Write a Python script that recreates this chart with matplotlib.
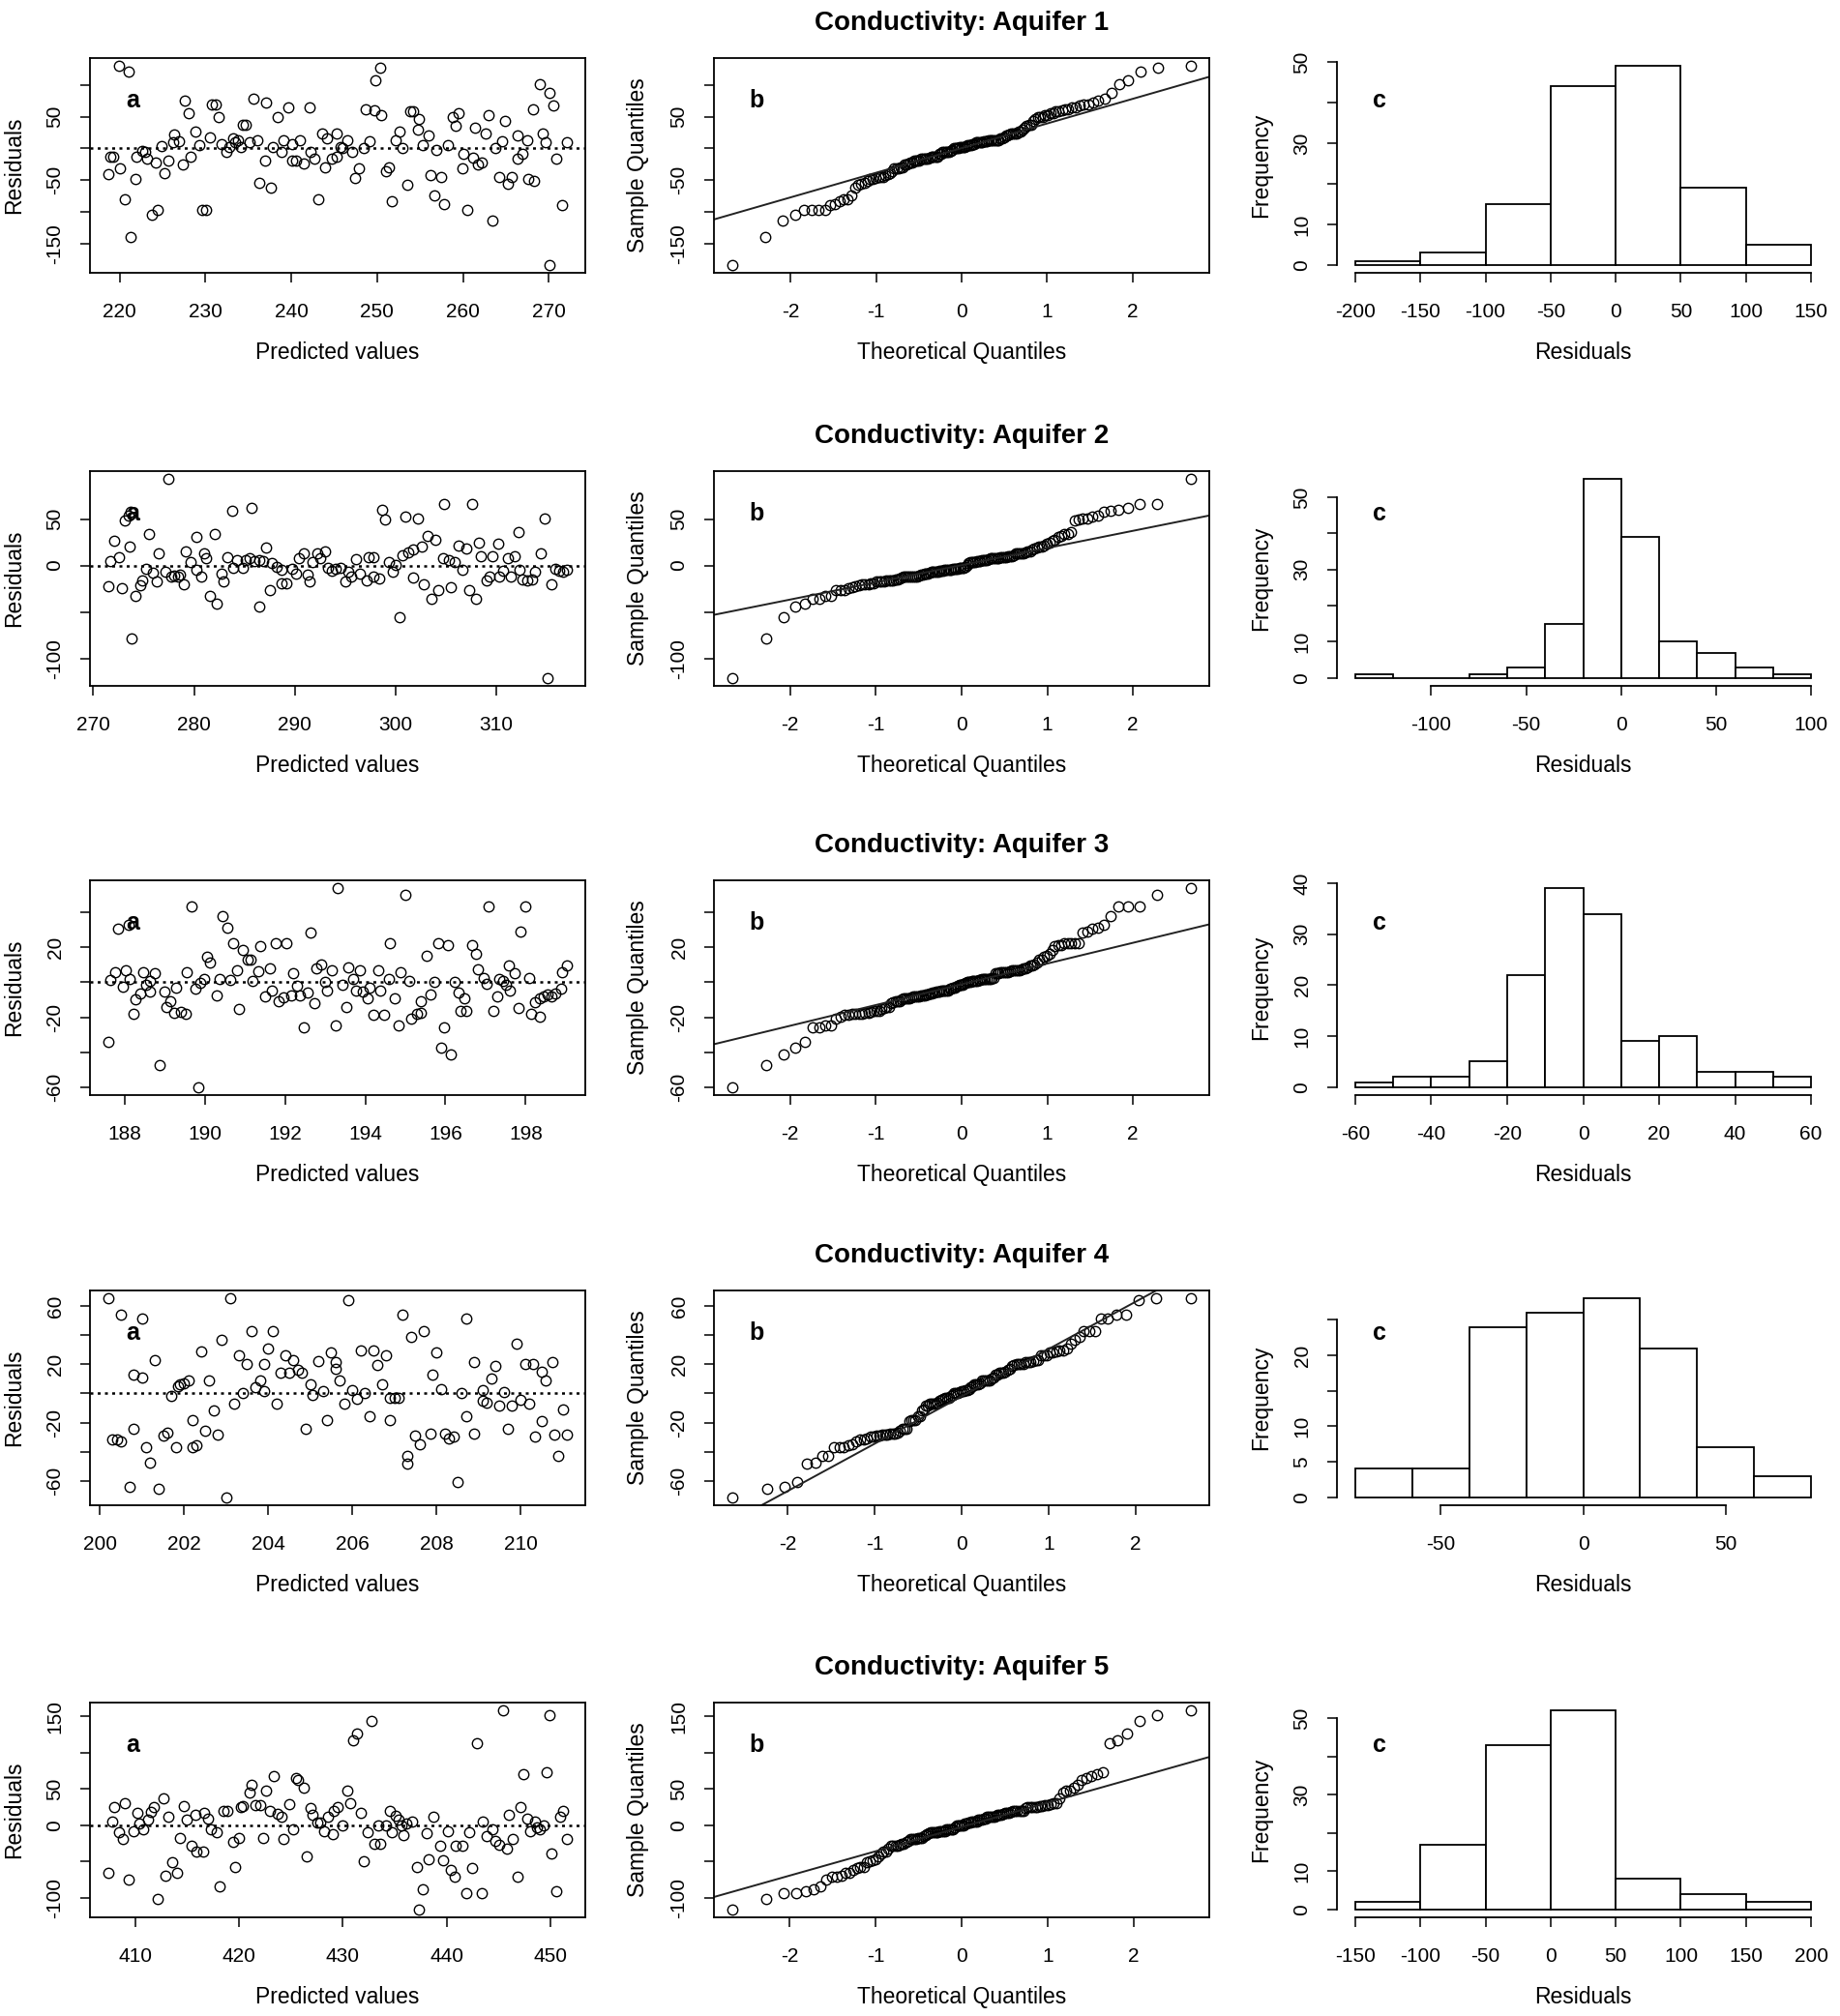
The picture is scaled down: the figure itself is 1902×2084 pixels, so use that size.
import statistics

import matplotlib
matplotlib.use("Agg")
import matplotlib.pyplot as plt
import numpy as np

plt.rcParams["font.family"] = ["Liberation Sans", "DejaVu Sans"]

# ---- Aquifer 1: (predicted, residual) ----
aq1_points = [
    (219.9, 129.6), (221.1, 120.6), (218.7, -40), (218.9, -12.6), (219.3, -12.6), (220.1, -31.7),
    (220.6, -80.4), (221.3, -138.7), (221.9, -47.7), (222.0, -12.6), (222.6, -3.5), (223.0, -5.5),
    (223.2, -16.6), (223.8, -104), (224.5, -96.5), (224.2, -21.6), (224.9, 3.5), (225.2, -38.7),
    (225.7, -18.6), (226.3, 10), (226.4, 21.6), (226.9, 11), (227.4, -25.6), (227.6, 75.4),
    (228.1, 55.3), (228.3, -12.6), (228.8, 26.6), (229.3, 5), (229.6, -96.5), (230.1, -96.5),
    (230.5, 17.6), (230.8, 68.8), (231.2, 68.8), (231.5, 48.7), (231.9, 7.5), (232.5, -6),
    (232.8, 2.5), (233.2, 16.6), (233.5, 10), (233.8, 13.6), (234.1, 1.5), (234.4, 36.7),
    (234.7, 36.7), (235.2, 10), (235.6, 77.9), (236.0, 13.6), (236.3, -54.3), (236.9, -19.1),
    (237.1, 71.4), (237.6, -61.3), (237.8, 1.5), (238.4, 48.7), (238.9, -6), (239.1, 13.6),
    (239.6, 65.3), (240.1, 7.5), (240.1, -19.1), (240.6, -19.1), (241.0, 13.6), (241.5, -24.1),
    (242.1, 65.3), (242.3, -6), (242.7, -16.6), (243.2, -80.4), (243.6, 23.6), (243.9, -29.1),
    (244.2, 16.6), (244.7, -16.6), (245.3, 23.6), (245.3, -13.6), (245.7, 2.5), (246.0, 0),
    (246.5, 13.6), (247.1, -6), (247.4, -46.2), (247.9, -31.7), (248.4, 0), (248.7, 61.8),
    (249.1, 11), (249.7, 59.3), (249.8, 107), (250.3, 126.6), (250.5, 51.8), (251.0, -35.2),
    (251.4, -30.2), (251.7, -83.4), (252.2, 13.6), (252.6, 26.6), (253.0, 0), (253.5, -57.8),
    (253.8, 58.8), (254.2, 58.8), (254.9, 46.2), (254.8, 29.1), (255.3, 5), (256.0, 21.1),
    (256.2, -41.7), (256.7, -73.9), (256.9, -2.5), (257.4, -44.7), (257.8, -86.9), (258.2, 5),
    (258.8, 48.7), (259.1, 36.2), (259.5, 55.3), (260.0, -8.5), (259.9, -31.7), (260.5, -96.5),
    (261.2, -15.1), (261.4, 32.7), (261.7, -25.1), (262.2, -22.6), (262.6, 23.6), (263.0, 51.8),
    (263.4, -113), (263.8, 0), (264.2, -45.2), (264.5, 11), (264.9, 42.7), (265.2, -55.3),
    (265.7, -45.2), (266.3, 20.1), (266.4, -16.6), (266.9, -8.5), (267.5, 13.6), (267.6, -47.7),
    (268.3, -51.3), (268.1, 61.8), (268.9, 100.5), (269.3, 23.6), (269.6, 10), (270.1, 86.9),
    (270.5, 67.8), (270.9, -16.6), (271.5, -89.4), (270.1, -183), (272.1, 10),
]
aq1_breaks = [-200, -150, -100, -50, 0, 50, 100, 150]
aq1_counts = [1, 3, 15, 44, 49, 19, 5]

# ---- Aquifer 2 ----
aq2_points = [
    (271.5, -22.8), (271.7, 4.9), (272.1, 26.6), (272.6, 9.3), (272.8, -24.5), (273.1, 48),
    (273.5, 54), (273.7, 58), (273.6, 20.3), (273.8, -79), (274.2, -33.1), (274.7, -21.7),
    (274.9, -15.9), (275.2, -3.4), (275.5, 33.4), (275.9, -7.9), (276.3, -17.6), (276.5, 13.4),
    (277.2, -6.9), (277.5, 93), (277.7, -11.4), (278.0, -10.7), (278.4, -12.4), (278.6, -10.3),
    (279.0, -20.7), (279.2, 15.5), (279.7, 3.4), (280.2, -4.5), (280.2, 31), (280.7, -11.4),
    (281.0, 12.8), (281.2, 7.6), (281.6, -32.8), (282.1, 33.4), (282.3, -40.7), (282.7, -8.6),
    (282.9, -17.6), (283.3, 9.3), (283.8, 59.3), (283.9, -2.8), (284.3, 5.9), (284.8, -2.8),
    (285.1, 5.9), (285.5, 7.6), (285.7, 62), (286.0, 4.8), (286.5, 5.9), (286.9, 4.8),
    (286.5, -44.1), (287.1, 19.7), (287.5, -26.9), (287.7, 3.1), (288.2, -1), (288.7, -4.5),
    (288.7, -19.3), (289.2, -19.3), (289.7, -3.4), (290.1, -8.6), (290.4, 8.3), (290.9, 12.8),
    (291.3, -10.3), (291.5, -17.6), (291.8, 4.1), (292.2, 12.8), (292.5, 7.6), (293.0, 15.5),
    (293.3, -2.8), (293.7, -5.2), (294.1, -3.4), (294.5, -2.1), (295.0, -17.6), (295.3, -6.2),
    (295.6, -11.4), (296.1, 6.9), (296.5, -8.6), (297.1, -15.9), (297.3, 9.3), (297.8, 9.3),
    (297.8, -11.4), (298.4, -13.8), (298.7, 60), (299.0, 49), (299.3, 4.1), (299.7, -6.2),
    (300.0, 0.7), (300.4, -55.5), (300.7, 11), (301.0, 53), (301.3, 14.5), (301.7, -13.1),
    (301.7, 16.9), (302.2, 50.7), (302.6, 20.3), (302.8, -20), (303.2, 31.7), (303.6, -35.5),
    (303.9, 27.2), (304.2, -26.9), (304.7, 7.6), (304.8, 66), (305.3, 5.9), (305.5, -23.4),
    (305.9, 4.1), (306.2, 21.4), (306.6, -4.5), (307.0, 18), (307.3, -26.2), (307.6, 66),
    (308.0, -35.5), (308.3, 25), (308.5, 10.3), (309.0, -16.6), (309.3, -11.4), (309.6, 10.3),
    (310.2, 23.1), (310.3, -11.4), (310.7, -5.5), (311.1, 8.3), (311.4, -11.4), (311.8, 10.3),
    (312.2, 35.9), (312.3, -4.5), (312.6, -14.9), (313.1, -15.9), (313.5, -14.9), (313.8, -6.9),
    (314.4, 12.8), (314.8, 50.7), (315.1, -121), (315.5, -20), (315.8, -3.4), (316.2, -5.5),
    (316.6, -6.2), (317.0, -4.8),
]
aq2_breaks = [-140, -120, -100, -80, -60, -40, -20, 0, 20, 40, 60, 80, 100]
aq2_counts = [1, 0, 0, 1, 3, 15, 55, 39, 10, 7, 3, 1]

# ---- Aquifer 3 ----
aq3_points = [
    (187.59, -34.3), (187.65, 1.5), (187.75, 5.8), (187.83, 30.7), (187.95, -2.7), (188.02, 6.9),
    (188.12, 2.2), (188.10, 32.8), (188.21, -17.9), (188.26, -9.5), (188.38, -6.4), (188.45, 5.8),
    (188.53, -1.5), (188.63, -5.5), (188.74, 5.5), (188.64, 0.9), (188.88, -47.4), (188.98, -5.5),
    (189.03, -14.1), (189.14, -10.6), (189.24, -17.7), (189.41, -16.8), (189.51, -18.2), (189.29, -3.3),
    (189.54, 5.8), (189.67, 43.4), (189.77, -3.6), (189.83, -59.9), (189.89, -0.4), (189.99, 1.8),
    (190.05, 14.6), (190.13, 11.3), (190.30, -7.3), (190.36, 2.2), (190.45, 38), (190.55, 31.4),
    (190.62, 1.5), (190.71, 22.3), (190.81, 6.9), (190.86, -15.1), (190.95, 18.6), (191.07, 12.8),
    (191.14, 12.8), (191.19, 0.9), (191.34, 6.4), (191.38, 21), (191.50, -8.2), (191.61, 8.2),
    (191.67, -4.6), (191.77, 22.3), (191.85, -10.6), (191.96, -8.8), (192.03, 22.3), (192.15, -7.3),
    (192.20, 5.5), (192.30, -1.8), (192.38, -7.3), (192.46, -25.9), (192.57, -5.8), (192.63, 28.3),
    (192.73, -11.9), (192.78, 8.2), (192.89, 10), (192.99, 0), (193.05, -4.6), (193.16, 6.9),
    (193.26, -24.6), (193.31, 53.8), (193.42, -1.5), (193.53, -14.1), (193.57, 8.8), (193.69, 1.8),
    (193.76, -4.6), (193.86, 6.9), (193.93, -5.1), (194.05, -9.1), (194.11, -3.3), (194.20, -18.6),
    (194.48, -18.6), (194.32, 6.9), (194.37, -4.6), (194.61, 22.3), (194.58, 1.8), (194.73, -9.1),
    (194.83, -24.6), (194.88, 5.8), (195.01, 50.2), (195.09, 0.9), (195.15, -21), (195.28, -17.9),
    (195.38, -17.3), (195.39, -10.9), (195.52, 15.1), (195.63, -6.9), (195.73, 0.4), (195.81, 22.3),
    (195.90, -37.4), (195.97, -25.9), (196.07, 21.5), (196.14, -41.1), (196.24, 0.4), (196.32, -5.8),
    (196.48, -9.1), (196.38, -16.4), (196.53, -16.4), (196.67, 21.5), (196.77, 16.4), (196.82, 7.3),
    (196.96, 2.7), (197.03, -0.9), (197.08, 43.4), (197.20, -16.4), (197.30, -8.2), (197.35, 1.8),
    (197.44, 0.9), (197.51, -1.5), (197.61, -4.6), (197.59, 9.5), (197.73, 5.5), (197.83, -14.6),
    (197.86, 29.2), (197.99, 43.4), (198.10, 2.7), (198.14, -18.2), (198.24, -11.3), (198.36, -9.1),
    (198.45, -7.8), (198.55, -6.9), (198.64, -7.8), (198.74, -6.4), (198.88, -3.6), (198.36, -19.7),
    (198.91, 5.8), (199.03, 9.5),
]
aq3_breaks = [-60, -50, -40, -30, -20, -10, 0, 10, 20, 30, 40, 50, 60]
aq3_counts = [1, 2, 2, 5, 22, 39, 34, 9, 10, 3, 3, 2]

# ---- Aquifer 4 ----
aq4_points = [
    (200.2, 65.5), (200.3, -31.8), (200.4, -31.8), (200.5, 54.3), (200.5, -33), (200.7, -64.6),
    (200.8, -24), (200.8, 12.7), (201.0, 51.7), (201.0, 11.1), (201.1, -37), (201.2, -47.4),
    (201.3, 22.7), (201.4, -65.7), (201.5, -29), (201.6, -26.7), (201.7, -1.8), (201.8, -37),
    (201.85, 4.9), (201.9, 6), (202.0, 7.1), (202.1, 8.9), (202.2, -37), (202.3, -35.6),
    (202.2, -18.5), (202.4, 28.7), (202.5, -25.8), (202.6, 8.9), (202.7, -11.4), (202.8, -28.5),
    (202.9, 37.2), (203.0, -71.5), (203.1, 65.5), (203.2, -7.3), (203.3, 26.1), (203.4, 0),
    (203.5, 20), (203.6, 42.8), (203.7, 4.5), (203.8, 8.9), (203.9, 1.6), (203.9, 20),
    (204.0, 31.2), (204.1, 42.8), (204.2, -7.3), (204.3, 14.3), (204.4, 26.1), (204.5, 14.3),
    (204.6, 23.2), (204.7, 16), (204.8, 14.3), (204.9, -24), (205.0, 6), (205.05, -0.7),
    (205.2, 22.3), (205.3, 1.6), (205.4, -18.5), (205.5, 28.3), (205.6, 21.6), (205.6, 17.1),
    (205.7, 8.9), (205.8, -7.3), (205.9, 64.6), (206.0, 2.2), (206.1, -3.6), (206.2, 29.8),
    (206.3, 0), (206.4, -15.6), (206.5, 29.8), (206.6, 19.4), (206.7, 6), (206.8, 26.1),
    (206.9, -18.5), (206.9, -2.9), (207.0, -2.9), (207.1, -2.9), (207.2, 54.3), (207.3, -43),
    (207.3, -48.6), (207.4, 38.8), (207.5, -29), (207.6, -34.7), (207.7, 42.8), (207.85, -27.4),
    (207.9, 12.7), (208.0, 28.3), (208.1, 3.1), (208.2, -27.4), (208.3, -30.7), (208.4, -29.6),
    (208.5, -61), (208.6, 0), (208.7, 51.7), (208.7, -15.6), (208.9, -27.4), (208.9, 21.6),
    (209.1, 2.2), (209.1, -5.1), (209.2, -6.2), (209.3, 10.5), (209.4, 18.7), (209.5, -8.5),
    (209.6, 0.9), (209.7, -24), (209.8, -8.5), (209.9, 34.3), (210.0, -4), (210.1, 20),
    (210.2, -7.3), (210.3, 20), (210.35, -29.6), (210.5, -19.2), (210.5, 14.9), (210.6, 8.7),
    (210.75, 21.6), (210.8, -28.5), (210.9, -43), (211.0, -11.1), (211.1, -28.5),
]
aq4_breaks = [-80, -60, -40, -20, 0, 20, 40, 60, 80]
aq4_counts = [4, 4, 24, 26, 28, 21, 7, 3]

# ---- Aquifer 5 ----
aq5_points = [
    (407.4, -65.8), (407.8, 5.7), (408.0, 25.4), (408.4, -9.6), (408.8, -18.4), (409.0, 30.7),
    (409.4, -74.6), (409.8, -8.8), (410.2, 16.7), (410.4, 2.6), (410.8, -6.1), (411.2, 7.9),
    (411.5, 18.9), (411.8, 24.6), (412.2, -101.8), (412.7, 36.4), (412.9, -68.9), (413.2, 11.4),
    (413.6, -51.3), (414.0, -65.8), (414.3, -17.5), (414.7, 26.3), (415.0, 7.9), (415.4, -28.1),
    (415.8, 14.5), (415.9, -36), (416.5, -36.8), (416.6, 16.7), (417.0, 8.8), (417.3, -6.1),
    (417.8, -9.6), (418.1, -84.2), (418.5, 20.2), (418.9, 20.2), (419.4, -22.8), (419.6, -57.9),
    (420.0, -17.5), (420.2, 24.6), (420.4, 26.3), (421.0, 45.2), (421.2, 55.3), (421.6, 27.6),
    (422.0, 27.6), (422.3, -17.5), (422.6, 47.4), (423.0, 20.2), (423.3, 67.1), (423.7, 15.4),
    (424.1, 12.3), (424.3, -19.3), (424.8, 28.9), (425.2, -6.1), (425.5, 64.9), (425.7, 62.7),
    (426.2, 51.8), (426.5, -42.5), (426.9, 23.2), (427.1, 14.5), (427.5, 4.4), (427.8, 4.4),
    (428.2, -8.3), (428.6, 12.3), (429.0, -11.8), (429.1, 20.2), (429.5, 24.6), (430.0, 0),
    (430.4, 47.4), (430.7, 30.7), (431.0, 116.7), (431.4, 126.3), (431.7, 16.7), (432.0, -49.1),
    (432.4, -9.6), (432.8, 143.9), (433.0, -25), (433.6, -25), (433.4, 0), (434.2, 0),
    (434.5, 20.2), (434.7, -9.6), (435.1, 13.2), (435.4, 7.9), (435.7, 0), (436.1, 2.6),
    (435.8, -14), (436.7, 5.7), (437.1, -57), (437.3, -115.8), (437.7, -87.7), (438.1, -10.5),
    (438.3, -46.9), (438.7, 12.3), (439.4, -28.5), (439.7, -48.2), (440.1, -8.8), (440.4, -61.4),
    (440.8, -70.2), (440.9, -28.5), (441.5, -28.5), (441.9, -93), (442.2, -9.6), (442.5, -58.8),
    (442.9, 112.3), (443.4, -93), (443.5, 5.7), (443.9, -14.9), (444.4, -6.1), (444.7, -21.9),
    (445.1, -26.3), (445.4, 157.9), (445.8, -31.6), (446.0, 14.5), (446.4, -19.3), (446.8, -70.2),
    (447.1, 25.4), (447.4, 70.2), (447.8, 8.8), (448.1, -8.8), (448.5, 5.7), (448.7, -3.1),
    (449.0, -5.3), (449.4, -0.9), (449.9, 151.8), (450.1, -39.5), (449.6, 72.8), (450.6, -90.8),
    (450.9, 11.4), (451.2, 20.2), (451.6, -19.3),
]
aq5_breaks = [-150, -100, -50, 0, 50, 100, 150, 200]
aq5_counts = [2, 17, 43, 52, 8, 4, 2]

# ---- tick labels per row ----
scatter_xticks = [
    [220, 230, 240, 250, 260, 270],
    [270, 280, 290, 300, 310],
    [188, 190, 192, 194, 196, 198],
    [200, 202, 204, 206, 208, 210],
    [410, 420, 430, 440, 450],
]
resid_yticks = [
    [-150, -100, -50, 0, 50, 100],
    [-100, -50, 0, 50],
    [-60, -40, -20, 0, 20, 40],
    [-60, -40, -20, 0, 20, 40, 60],
    [-100, -50, 0, 50, 100, 150],
]
resid_ylabels = [
    [-150, -50, 50],
    [-100, 0, 50],
    [-60, -20, 20],
    [-60, -20, 20, 60],
    [-100, 0, 50, 150],
]
qq_xticks = [-2, -1, 0, 1, 2]
hist_xticks = [
    [-200, -150, -100, -50, 0, 50, 100, 150],
    [-100, -50, 0, 50, 100],
    [-60, -40, -20, 0, 20, 40, 60],
    [-50, 0, 50],
    [-150, -100, -50, 0, 50, 100, 150, 200],
]
hist_yticks = [
    [0, 10, 20, 30, 40, 50],
    [0, 10, 20, 30, 40, 50],
    [0, 10, 20, 30, 40],
    [0, 5, 10, 15, 20, 25],
    [0, 10, 20, 30, 40, 50],
]
hist_ylabels = [
    [0, 10, 30, 50],
    [0, 10, 30, 50],
    [0, 10, 20, 30, 40],
    [0, 5, 10, 20],
    [0, 10, 30, 50],
]

aquifers = [
    (aq1_points, aq1_breaks, aq1_counts),
    (aq2_points, aq2_breaks, aq2_counts),
    (aq3_points, aq3_breaks, aq3_counts),
    (aq4_points, aq4_breaks, aq4_counts),
    (aq5_points, aq5_breaks, aq5_counts),
]

W, H = 1902, 2084
COL_LEFT = [93, 738, 1382]
COL_WIDTH = [512, 512, 509]
ROW_TOP = [60, 487, 910, 1334, 1760]
ROW_H = 222


def panel(fig, row, col):
    left = COL_LEFT[col] / W
    bottom = 1 - (ROW_TOP[row] + ROW_H) / H
    return fig.add_axes([left, bottom, COL_WIDTH[col] / W, ROW_H / H])


def r_lim(values):
    """R 风格的 4% 扩展范围"""
    lo, hi = min(values), max(values)
    d = (hi - lo) * 0.04
    return lo - d, hi + d


def style_axes(ax, xticks, yticks, yshown):
    ax.set_xticks(xticks)
    ax.set_xticklabels([f"{t:g}" for t in xticks])
    ax.set_yticks(yticks)
    ax.set_yticklabels([f"{t:g}" if t in yshown else "" for t in yticks],
                       rotation=90, va="center")
    ax.tick_params(axis="both", direction="out", length=7, width=1.1, labelsize=15)
    ax.tick_params(axis="x", pad=15)
    ax.tick_params(axis="y", pad=12)
    for sp in ax.spines.values():
        sp.set_linewidth(1.3)


def label_axes(ax, xlabel, ylabel, letter):
    ax.set_xlabel(xlabel, fontsize=16.5)
    ax.set_ylabel(ylabel, fontsize=16.5)
    ax.xaxis.set_label_coords(0.5, -0.32)
    ax.yaxis.set_label_coords(-0.131, 0.5)
    ax.text(0.086, 0.80, letter, transform=ax.transAxes, fontsize=18,
            fontweight="bold", ha="center", va="center")


nd = statistics.NormalDist()
fig = plt.figure(figsize=(W / 100, H / 100), dpi=100)

for i, (points, breaks, counts) in enumerate(aquifers):
    pred = [p[0] for p in points]
    resid = [p[1] for p in points]

    # a: 残差 vs 预测值
    ax = panel(fig, i, 0)
    ax.plot(pred, resid, "o", mfc="none", mec="black", ms=7.5, mew=1.0)
    ax.axhline(0, color="black", lw=1.8, ls=(0, (1.2, 1.8)))
    ax.set_xlim(r_lim(pred))
    ax.set_ylim(r_lim(resid))
    style_axes(ax, scatter_xticks[i], resid_yticks[i], resid_ylabels[i])
    label_axes(ax, "Predicted values", "Residuals", "a")

    # b: 正态 QQ 图
    n = len(resid)
    a = 3 / 8 if n <= 10 else 0.5
    theo = [nd.inv_cdf((k + 1 - a) / (n + 1 - 2 * a)) for k in range(n)]
    samp = sorted(resid)
    ax = panel(fig, i, 1)
    ax.plot(theo, samp, "o", mfc="none", mec="black", ms=7.5, mew=1.0)
    yq = np.quantile(resid, [0.25, 0.75])
    xq = [nd.inv_cdf(0.25), nd.inv_cdf(0.75)]
    slope = (yq[1] - yq[0]) / (xq[1] - xq[0])
    ax.axline((0, yq[0] - slope * xq[0]), slope=slope, color="#222222", lw=1.4)
    ax.set_xlim(r_lim(theo))
    ax.set_ylim(r_lim(samp))
    style_axes(ax, qq_xticks, resid_yticks[i], resid_ylabels[i])
    label_axes(ax, "Theoretical Quantiles", "Sample Quantiles", "b")
    ax.set_title(f"Conductivity: Aquifer {i + 1}", fontsize=20, fontweight="bold", pad=21)

    # c: 残差直方图
    ax = panel(fig, i, 2)
    width = breaks[1] - breaks[0]
    ax.bar(breaks[:-1], counts, width=width, align="edge", color="white",
           edgecolor="black", linewidth=1.3)
    ax.set_xlim(r_lim(breaks))
    ax.set_ylim(r_lim([0] + counts))
    style_axes(ax, hist_xticks[i], hist_yticks[i], hist_ylabels[i])
    ax.spines["top"].set_visible(False)
    ax.spines["right"].set_visible(False)
    ax.spines["bottom"].set_bounds(hist_xticks[i][0], hist_xticks[i][-1])
    ax.spines["left"].set_bounds(hist_yticks[i][0], hist_yticks[i][-1])
    label_axes(ax, "Residuals", "Frequency", "c")

fig.savefig("out.png", dpi=100, facecolor="white")
plt.close()
